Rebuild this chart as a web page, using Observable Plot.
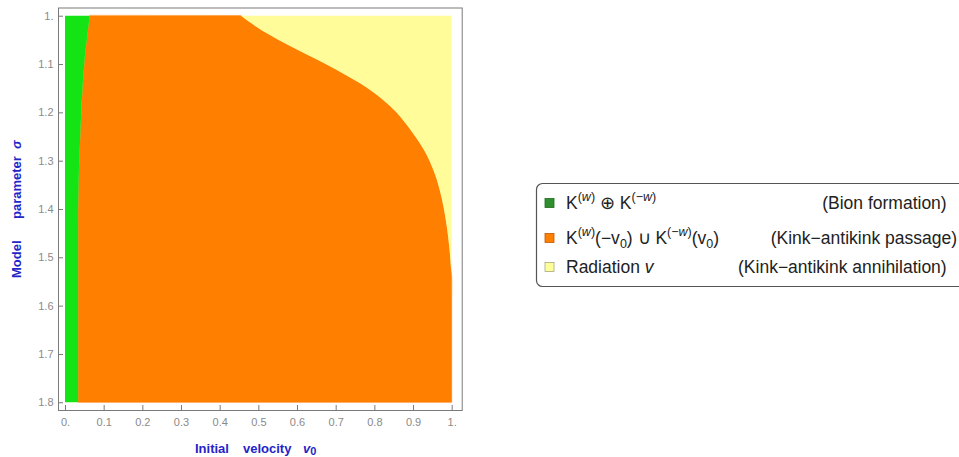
<!DOCTYPE html>
<html>
<head>
<meta charset="utf-8">
<script src="https://cdn.jsdelivr.net/npm/d3@7"></script>
<script src="https://cdn.jsdelivr.net/npm/@observablehq/plot@0.6"></script>
<style>
  html, body { margin: 0; padding: 0; background: #fff; }
  body { width: 959px; height: 457px; overflow: hidden; font-family: "Liberation Sans", Arial, sans-serif; }
</style>
</head>
<body>
<div id="chart"></div>
<script>
// ---- data ----
const sigma       = [1.00, 1.02, 1.04, 1.06, 1.08, 1.10, 1.12, 1.14, 1.16, 1.18, 1.20, 1.24, 1.28, 1.32, 1.36, 1.40, 1.44, 1.48, 1.52, 1.54, 1.60, 1.70, 1.80];
const bionEdge    = [0.064, 0.061, 0.058, 0.055, 0.052, 0.050, 0.048, 0.046, 0.045, 0.043, 0.042, 0.040, 0.038, 0.036, 0.035, 0.034, 0.034, 0.034, 0.034, 0.034, 0.034, 0.034, 0.034];
const passageEdge = [0.455, 0.490, 0.530, 0.576, 0.624, 0.674, 0.720, 0.763, 0.800, 0.831, 0.857, 0.897, 0.930, 0.953, 0.969, 0.980, 0.988, 0.994, 0.998, 1.000, 1.000, 1.000, 1.000];
const vMax = 1;

const xTicks = [0, 0.1, 0.2, 0.3, 0.4, 0.5, 0.6, 0.7, 0.8, 0.9, 1];
const xTickLabels = ["0.", "0.1", "0.2", "0.3", "0.4", "0.5", "0.6", "0.7", "0.8", "0.9", "1."];
const yTicks = [1, 1.1, 1.2, 1.3, 1.4, 1.5, 1.6, 1.7, 1.8];
const yTickLabels = ["1.", "1.1", "1.2", "1.3", "1.4", "1.5", "1.6", "1.7", "1.8"];

const regionColors = { bion: "#14e414", passage: "#ff7f00", radiation: "#fffc99" };
const legendColors = { bion: "#2f8f2f", passage: "#ff7f00", radiation: "#ffff99" };

// ---- table ----
const rows = sigma.map((s, i) => ({ sigma: s, bion: bionEdge[i], passage: passageEdge[i], vmax: vMax }));

// ---- layout ----
const W = 959, H = 457;
const mL = 58, mR = W - 461.7, mT = 7.5, mB = H - 410;
const frameW = W - mL - mR, frameH = H - mT - mB;

const chart = Plot.plot({
  width: W,
  height: H,
  marginLeft: mL,
  marginRight: mR,
  marginTop: mT,
  marginBottom: mB,
  style: { fontFamily: "'Liberation Sans', Arial, sans-serif", background: "#fff" },
  x: { domain: [-0.0181, 1.0259] },
  y: { domain: [0.983, 1.816], reverse: true },
  marks: [
    Plot.areaX(rows, { y: "sigma", x1: "bion", x2: "passage", fill: regionColors.passage, stroke: regionColors.passage, strokeWidth: 0.6, curve: "catmull-rom" }),
    Plot.areaX(rows, { y: "sigma", x1: 0, x2: "bion", fill: regionColors.bion, curve: "catmull-rom" }),
    Plot.areaX(rows, { y: "sigma", x1: "passage", x2: "vmax", fill: regionColors.radiation, curve: "catmull-rom" }),
    Plot.frame({ stroke: "#7a7a7a", strokeWidth: 1 }),
    Plot.tickX(xTicks, { x: d => d, insetTop: frameH - 5, stroke: "#7a7a7a" }),
    Plot.tickY(yTicks, { y: d => d, insetRight: frameW - 5, stroke: "#7a7a7a" }),
    Plot.axisX(xTicks, { tickSize: 0, tickPadding: 8, fontSize: 11, color: "#8a8a8a", label: null,
      tickFormat: d => xTickLabels[xTicks.indexOf(d)] }),
    Plot.axisY(yTicks, { tickSize: 0, tickPadding: 5, fontSize: 11, color: "#8a8a8a", label: null,
      tickFormat: d => yTickLabels[yTicks.indexOf(d)] })
  ]
});
document.getElementById("chart").appendChild(chart);

// ---- axis titles ----
const svg = d3.select(chart);
const blue = "#2424c8";
const xt = svg.append("g").attr("font-size", 13).attr("font-weight", "bold").attr("fill", blue).attr("text-anchor", "start");
xt.append("text").attr("x", 195).attr("y", 453).text("Initial");
xt.append("text").attr("x", 243).attr("y", 453).text("velocity");
const v0 = xt.append("text").attr("x", 303).attr("y", 453);
v0.append("tspan").attr("font-style", "italic").text("v");
v0.append("tspan").attr("dy", 2).attr("font-size", 11).text("0");

const yt = svg.append("g").attr("transform", "translate(21,0) rotate(-90)")
  .attr("font-size", 13).attr("font-weight", "bold").attr("fill", blue).attr("text-anchor", "start");
yt.append("text").attr("x", -278).attr("y", 0).text("Model");
yt.append("text").attr("x", -219).attr("y", 0).text("parameter");
yt.append("text").attr("x", -149).attr("y", 0).attr("font-style", "italic").text("σ");

// ---- legend ----
const lg = svg.append("g").attr("font-size", 17.5).attr("fill", "#222").attr("text-anchor", "start");
lg.append("rect").attr("x", 536.5).attr("y", 183.5).attr("width", 440).attr("height", 103)
  .attr("rx", 6).attr("fill", "#fff").attr("stroke", "#555").attr("stroke-width", 1.2);

const rowY = [203, 238, 267];
const sw = [legendColors.bion, legendColors.passage, legendColors.radiation];
const swStroke = ["#1f6a1f", "#c05a00", "#a8a880"];
rowY.forEach((cy, i) => {
  lg.append("rect").attr("x", 545).attr("y", cy - 4.5).attr("width", 9).attr("height", 9)
    .attr("fill", sw[i]).attr("stroke", swStroke[i]).attr("stroke-width", 0.8);
});
const base = rowY.map(c => c + 6);

// segments: [text, level (0 base, 1 sup, -1 sub), italic]
function rich(x, y, segs) {
  const t = lg.append("text").attr("x", x).attr("y", y);
  let cur = 0;
  const off = { "0": 0, "1": -8, "-1": 4 };
  segs.forEach(([txt, lvl, it]) => {
    const target = off[String(lvl)];
    const s = t.append("tspan").attr("dy", target - cur).text(txt);
    if (lvl !== 0) s.attr("font-size", 12.5);
    if (it) s.attr("font-style", "italic");
    cur = target;
  });
  return t;
}
// row 1
rich(566, base[0], [["K", 0], ["(", 1], ["w", 1, 1], [")", 1], [" \u2295 K", 0], ["(\u2212", 1], ["w", 1, 1], [")", 1]]);
lg.append("text").attr("x", 946.7).attr("y", base[0]).attr("text-anchor", "end").text("(Bion formation)");
// row 2
rich(566, base[1], [["K", 0], ["(", 1], ["w", 1, 1], [")", 1], ["(\u2212v", 0], ["0", -1], [") \u222A K", 0],
  ["(\u2212", 1], ["w", 1, 1], [")", 1], ["(v", 0], ["0", -1], [")", 0]]);
lg.append("text").attr("x", 957).attr("y", base[1]).attr("text-anchor", "end").text("(Kink\u2212antikink passage)");
// row 3
rich(566, base[2], [["Radiation ", 0], ["v", 0, 1]]);
lg.append("text").attr("x", 946.7).attr("y", base[2]).attr("text-anchor", "end").text("(Kink\u2212antikink annihilation)");
</script>
</body>
</html>
